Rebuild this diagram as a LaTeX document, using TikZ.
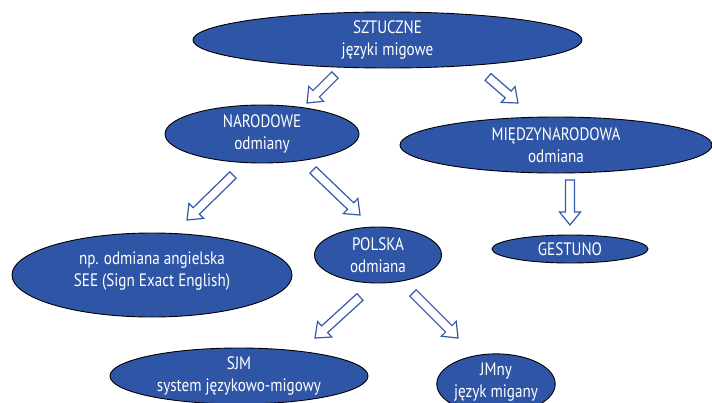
\documentclass[tikz,border=0pt]{standalone}
\usepackage{fontspec}
\setmainfont[FakeStretch=0.84]{PT Sans}
\usepackage{tikz}
\usetikzlibrary{calc,shapes.geometric}

\definecolor{ovalblue}{RGB}{47,86,166}
\definecolor{arrowblue}{RGB}{52,88,170}

\tikzset{
  oval/.style={ellipse,draw=black,line width=0.9pt,fill=ovalblue,text=white,
    inner sep=0pt,align=center,font=\fontsize{18}{22}\selectfont},
  arrowline/.style={draw=arrowblue,line width=1.2pt,fill=white,line join=miter}
}

% open block arrow from #1 (tail) to #2 (tip)
\newcommand\openarrow[2]{%
  \coordinate (hb) at ($(#2)!13pt!(#1)$);
  \draw[arrowline] ($(#1)!4.5pt!90:(#2)$) -- ($(hb)!4.5pt!90:(#2)$)
    -- ($(hb)!10.5pt!90:(#2)$) -- (#2) -- ($(hb)!10.5pt!-90:(#2)$)
    -- ($(hb)!4.5pt!-90:(#2)$) -- ($(#1)!4.5pt!-90:(#2)$) -- cycle;
}

\begin{document}
\begin{tikzpicture}[x=1pt,y=-1pt]
\clip (0,0) rectangle (712,402);

\node[oval,minimum width=389pt,minimum height=56pt] (sztuczne) at (387.5,40)
  {SZTUCZNE\\języki migowe};
\node[oval,minimum width=194pt,minimum height=58pt] (narodowe) at (262,134)
  {NARODOWE\\odmiany};
\node[oval,minimum width=312pt,minimum height=56pt] (miedzy) at (556,145)
  {MIĘDZYNARODOWA\\odmiana};
\node[oval,minimum width=156pt,minimum height=28pt] (gestuno) at (570,249)
  {GESTUNO};
\node[oval,minimum width=280pt,minimum height=84pt] (see) at (152,275)
  {np. odmiana angielska\\SEE (Sign Exact English)\\[-10pt]};
\node[oval,minimum width=127pt,minimum height=56pt] (polska) at (378,255)
  {POLSKA\\odmiana};
\node[oval,minimum width=258pt,minimum height=56pt] (sjm) at (239,376)
  {SJM\\system językowo-migowy};
\node[oval,minimum width=108pt,minimum height=58pt] (jmny) at (496,384)
  {JMny\\język migany\\[-14pt]};

% arrow ends
\coordinate (a1s) at (335,75);  \coordinate (a1e) at (307,103);
\coordinate (a2s) at (488,77);  \coordinate (a2e) at (518,103);
\coordinate (a3s) at (233,175); \coordinate (a3e) at (187,220);
\coordinate (a4s) at (313,170); \coordinate (a4e) at (360,215);
\coordinate (a5s) at (570,180); \coordinate (a5e) at (570,225);
\coordinate (a6s) at (360,297); \coordinate (a6e) at (315,338);
\coordinate (a7s) at (413,293); \coordinate (a7e) at (458,338);

\foreach \i in {1,...,7} {\openarrow{a\i s}{a\i e}}
\end{tikzpicture}
\end{document}
